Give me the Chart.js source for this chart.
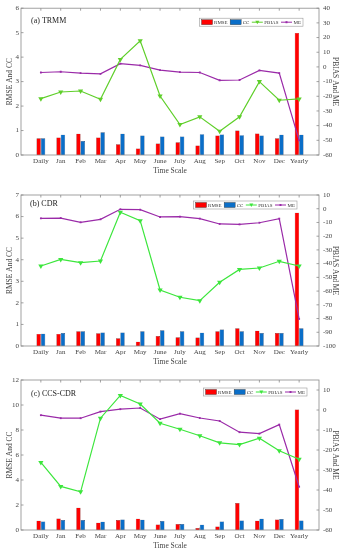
<!DOCTYPE html>
<html>
<head>
<meta charset="utf-8">
<script src="https://cdn.jsdelivr.net/npm/chart.js@4"></script>
<style>
html,body{margin:0;padding:0;background:#fff;}
body{width:344px;height:550px;position:relative;overflow:hidden;}
canvas{position:absolute;left:0;top:0;}
</style>
</head>
<body>
<canvas id="ca" width="344" height="550"></canvas>
<canvas id="cb" width="344" height="550"></canvas>
<canvas id="cc" width="344" height="550"></canvas>
<script>
const categories = ['Daily','Jan','Feb','Mar','Apr','May','June','July','Aug','Sep','Oct','Nov','Dec','Yearly'];

// (a) TRMM
const rmseA  = [0.68,0.72,0.87,0.72,0.44,0.27,0.47,0.52,0.39,0.80,1.00,0.88,0.68,4.99];
const ccA    = [0.68,0.83,0.57,0.93,0.87,0.80,0.76,0.76,0.85,0.84,0.81,0.80,0.83,0.83];
const pbiasA = [-21.6,-17.1,-16.4,-22.0,5.1,17.8,-19.8,-39.3,-34.0,-43.8,-34.0,-10.0,-22.7,-21.8];
const meA    = [-3.8,-3.3,-4.2,-4.7,2.2,1.1,-2.2,-3.6,-3.8,-9.1,-8.9,-2.4,-4.2,-50.0];

// (b) CDR
const rmseB  = [0.56,0.56,0.68,0.59,0.36,0.20,0.46,0.40,0.39,0.68,0.82,0.71,0.60,6.18];
const ccB    = [0.57,0.60,0.68,0.63,0.63,0.68,0.73,0.68,0.62,0.76,0.68,0.60,0.60,0.82];
const pbiasB = [-41.7,-36.9,-39.3,-38.1,-2.6,-8.7,-59.2,-64.5,-67.0,-53.6,-44.2,-43.2,-38.3,-41.7];
const meB    = [-7.0,-6.8,-9.9,-7.7,-0.4,-0.7,-6.0,-5.8,-7.2,-11.1,-11.4,-10.2,-7.2,-80.3];

// (c) CCS-CDR
const rmseC  = [0.75,0.93,1.79,0.59,0.80,0.91,0.45,0.48,0.16,0.29,2.16,0.75,0.85,9.65];
const ccC    = [0.69,0.80,0.80,0.67,0.85,0.83,0.72,0.48,0.43,0.69,0.77,0.91,0.88,0.77];
const pbiasC = [-26.2,-38.2,-40.9,-4.1,7.3,3.0,-6.6,-9.6,-12.9,-16.4,-17.3,-14.1,-20.4,-24.6];
const meC    = [-2.6,-4.1,-4.1,-0.8,0.4,1.0,-4.6,-1.8,-4.0,-5.5,-11.1,-11.8,-7.3,-38.4];

const seriesNames = ['RMSE','CC','PBIAS','ME'];
const leftTitle = 'RMSE And CC';
const rightTitle = 'PBIAS And ME';
const xTitle = 'Time Scale';

const FONT = '"Liberation Serif", "DejaVu Serif", serif';
const RED = '#ff0000', BLUE = '#0a6ec8', PURPLE = '#9a2aa8';

function pad(arr){ return [null, ...arr, null]; }

const boxPlugin = {
  id:'boxPlugin',
  afterDraw(chart){
    const ctx = chart.ctx, a = chart.chartArea;
    ctx.save();
    ctx.strokeStyle = '#8a8a8a';
    ctx.lineWidth = 0.8;
    ctx.strokeRect(a.left, a.top, a.right-a.left, a.bottom-a.top);
    const L = 2.5;
    ctx.beginPath();
    const x = chart.scales.x;
    for (let i=1;i<=categories.length;i++){
      const px = x.getPixelForValue(i);
      ctx.moveTo(px,a.bottom); ctx.lineTo(px,a.bottom-L);
      ctx.moveTo(px,a.top); ctx.lineTo(px,a.top+L);
    }
    chart.scales.y.ticks.forEach(t=>{
      const py = chart.scales.y.getPixelForValue(t.value);
      ctx.moveTo(a.left,py); ctx.lineTo(a.left+L,py);
    });
    chart.scales.y1.ticks.forEach(t=>{
      const py = chart.scales.y1.getPixelForValue(t.value);
      ctx.moveTo(a.right,py); ctx.lineTo(a.right-L,py);
    });
    ctx.stroke();
    // panel label
    const o = chart.options.plugins.boxPlugin;
    ctx.fillStyle = '#222';
    ctx.font = '8px ' + FONT;
    ctx.textBaseline = 'middle';
    ctx.fillText(o.label, a.left + o.lx, a.top + o.ly);
    // legend
    ctx.font = '5px ' + FONT;
    const sw = 11, gap = 1.5, itemGap = 2.5;
    const widths = chart.data.datasets.map(d => sw + gap + ctx.measureText(d.label).width);
    const total = widths.reduce((s,w)=>s+w,0) + itemGap*(widths.length-1) + 4;
    const h = 8;
    let lx = a.right - o.rx - total, ly = a.top + o.ry;
    ctx.fillStyle = '#fff';
    ctx.fillRect(lx, ly, total, h);
    ctx.strokeStyle = '#999';
    ctx.lineWidth = 0.6;
    ctx.strokeRect(lx, ly, total, h);
    let cx = lx + 2;
    chart.data.datasets.forEach((d,i)=>{
      const cy = ly + h/2;
      if (d.type === 'bar'){
        ctx.fillStyle = d.backgroundColor;
        ctx.fillRect(cx, ly+1.5, sw, h-3);
        ctx.strokeStyle = '#333'; ctx.lineWidth = 0.4;
        ctx.strokeRect(cx, ly+1.5, sw, h-3);
      } else {
        ctx.strokeStyle = d.borderColor; ctx.lineWidth = 1;
        ctx.beginPath(); ctx.moveTo(cx, cy); ctx.lineTo(cx+sw, cy); ctx.stroke();
        ctx.fillStyle = d.borderColor;
        ctx.beginPath();
        if (d.pointStyle === 'triangle'){
          ctx.moveTo(cx+sw/2-2, cy-1.5); ctx.lineTo(cx+sw/2+2, cy-1.5); ctx.lineTo(cx+sw/2, cy+2);
        } else {
          ctx.rect(cx+sw/2-1, cy-1, 2, 2);
        }
        ctx.fill();
      }
      ctx.fillStyle = '#333';
      ctx.textBaseline = 'middle';
      ctx.fillText(d.label, cx + sw + gap, cy + 0.3);
      cx += widths[i] + itemGap;
    });
    ctx.restore();
  }
};

function makeChart(id, rmse, cc, pbias, me, lmax, lstep, rmin, rmax, opts){
  const labels = ['', ...categories, ''];
  return new Chart(document.getElementById(id), {
    data: {
      labels: labels,
      datasets: [
        {type:'bar', label:seriesNames[0], data:pad(rmse), yAxisID:'y', backgroundColor:RED, borderColor:'#551111', borderWidth:0.4, barPercentage:1.0, categoryPercentage:0.44, order:2},
        {type:'bar', label:seriesNames[1], data:pad(cc), yAxisID:'y', backgroundColor:BLUE, borderColor:'#112244', borderWidth:0.4, barPercentage:1.0, categoryPercentage:0.44, order:2},
        {type:'line', label:seriesNames[2], data:pad(pbias), yAxisID:'y1', borderColor:opts.green, backgroundColor:opts.green, borderWidth:1.2, pointStyle:'triangle', rotation:180, pointRadius:3, pointBorderWidth:0, tension:0, order:1},
        {type:'line', label:seriesNames[3], data:pad(me), yAxisID:'y1', borderColor:PURPLE, backgroundColor:PURPLE, borderWidth:1.2, pointStyle:'rect', pointRadius:1.3, pointBorderWidth:0, tension:0, order:1}
      ]
    },
    options: {
      responsive:false,
      animation:false,
      events:[],
      layout:{padding:{left:0,right:0,top:opts.top,bottom:opts.bottom}},
      plugins:{
        legend:{display:false},
        tooltip:{enabled:false},
        boxPlugin: opts.box
      },
      scales:{
        x:{
          type:'category', offset:false,
          grid:{display:false, drawTicks:false},
          border:{display:false},
          afterFit(s){ s.height = 18.5; },
          ticks:{font:{family:FONT,size:7}, color:'#444', padding:1.5, maxRotation:0, autoSkip:false},
          title:{display:true, text:xTitle, font:{family:FONT,size:7.5}, color:'#444', padding:{top:0,bottom:-2}}
        },
        y:{
          position:'left', min:0, max:lmax,
          grid:{display:false, drawTicks:false},
          border:{display:false},
          afterFit(s){ s.width = 21; },
          ticks:{stepSize:lstep, font:{family:FONT,size:7}, color:'#444', padding:2},
          title:{display:true, text:leftTitle, font:{family:FONT,size:7.5}, color:'#444', padding:{top:5.5,bottom:0}}
        },
        y1:{
          position:'right', min:rmin, max:rmax,
          grid:{display:false, drawTicks:false},
          border:{display:false},
          afterFit(s){ s.width = 25; },
          afterBuildTicks(scale){ scale.ticks = scale.ticks.filter(t => Math.round(t.value) % 10 === 0); },
          ticks:{stepSize:10, font:{family:FONT,size:7}, color:'#444', padding:4},
          title:{display:true, text:rightTitle, font:{family:FONT,size:7.5}, color:'#444', padding:{top:4.5,bottom:0}}
        }
      }
    },
    plugins:[boxPlugin]
  });
}

makeChart('ca', rmseA, ccA, pbiasA, meA, 6, 1, -60, 40, {
  top:5, bottom:550-173.5, green:'#5fcf2a',
  box:{label:'(a) TRMM', lx:10, ly:13, rx:16, ry:10}
});
makeChart('cb', rmseB, ccB, pbiasB, meB, 7, 1, -100, 10, {
  top:195, bottom:550-364.5, green:'#3ce63c',
  box:{label:'(b) CDR', lx:9, ly:9, rx:22, ry:6}
});
makeChart('cc', rmseC, ccC, pbiasC, meC, 12, 2, -60, 15, {
  top:380, bottom:550-548.5, green:'#3ce63c',
  box:{label:'(c) CCS-CDR', lx:10, ly:14, rx:12, ry:8}
});
</script>
</body>
</html>
